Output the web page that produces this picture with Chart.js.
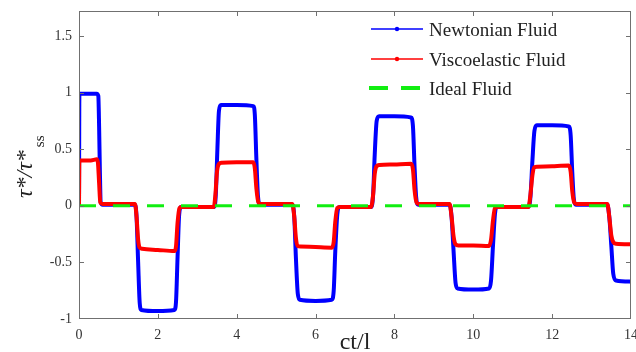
<!DOCTYPE html>
<html>
<head>
<meta charset="utf-8">
<script src="https://cdn.jsdelivr.net/npm/chart.js@4.4.1/dist/chart.umd.min.js"></script>
<style>
  html, body { margin: 0; padding: 0; background: #fff; }
  #wrap { width: 636px; height: 352px; }
</style>
</head>
<body>
<div id="wrap"><canvas id="chart"></canvas></div>
<script>
// values: [ct/l, tau*/tau*_ss]
const newtonian = [
    [0, 0], [0.01, 0.99], [0.45, 0.99], [0.49, 0.97], [0.51, 0.7], [0.53, 0.3], [0.55, 0.03], [0.6, 0.01],
    [1.42, 0.01], [1.46, -0.1], [1.5, -0.5], [1.54, -0.86], [1.58, -0.92], [2.0, -0.93], [2.42, -0.92], [2.46, -0.85], [2.5, -0.45], [2.54, -0.08], [2.59, -0.01],
    [3.43, -0.01], [3.47, 0.1], [3.51, 0.5], [3.55, 0.84], [3.6, 0.89], [4.0, 0.89], [4.42, 0.88], [4.46, 0.8], [4.5, 0.4], [4.54, 0.08], [4.59, 0.01],
    [5.41, 0.01], [5.46, -0.1], [5.5, -0.45], [5.55, -0.78], [5.6, -0.83], [6.0, -0.84], [6.41, -0.83], [6.46, -0.75], [6.5, -0.4], [6.55, -0.08], [6.6, -0.01],
    [7.41, -0.01], [7.46, 0.1], [7.5, 0.45], [7.55, 0.75], [7.61, 0.79], [8.0, 0.79], [8.42, 0.78], [8.47, 0.7], [8.51, 0.35], [8.55, 0.08], [8.6, 0.01],
    [9.4, 0.01], [9.45, -0.1], [9.5, -0.4], [9.55, -0.68], [9.6, -0.73], [10.0, -0.74], [10.4, -0.73], [10.45, -0.66], [10.5, -0.35], [10.55, -0.07], [10.6, -0.01],
    [11.4, -0.01], [11.45, 0.08], [11.5, 0.4], [11.55, 0.66], [11.61, 0.71], [12.0, 0.71], [12.42, 0.7], [12.47, 0.62], [12.51, 0.3], [12.55, 0.06], [12.6, 0.01],
    [13.4, 0.01], [13.45, -0.1], [13.5, -0.35], [13.55, -0.6], [13.62, -0.66], [14.0, -0.67]
];
const viscoelastic = [
    [0, 0], [0.01, 0.4], [0.3, 0.4], [0.45, 0.41], [0.48, 0.38], [0.51, 0.2], [0.54, 0.03], [0.6, 0.015],
    [1.42, 0.015], [1.46, -0.1], [1.5, -0.3], [1.54, -0.37], [1.6, -0.38], [2.0, -0.39], [2.42, -0.4], [2.46, -0.36], [2.5, -0.15], [2.55, -0.02], [2.6, -0.01],
    [3.42, -0.01], [3.46, 0.1], [3.5, 0.3], [3.55, 0.37], [3.62, 0.38], [4.0, 0.385], [4.42, 0.385], [4.46, 0.33], [4.5, 0.15], [4.55, 0.03], [4.62, 0.015],
    [5.41, 0.015], [5.46, -0.1], [5.5, -0.28], [5.55, -0.355], [5.62, -0.36], [6.0, -0.365], [6.41, -0.37], [6.46, -0.32], [6.5, -0.14], [6.55, -0.02], [6.62, -0.01],
    [7.41, -0.01], [7.46, 0.1], [7.5, 0.28], [7.55, 0.35], [7.62, 0.36], [8.0, 0.365], [8.42, 0.37], [8.47, 0.32], [8.51, 0.14], [8.56, 0.03], [8.62, 0.015],
    [9.4, 0.015], [9.45, -0.1], [9.5, -0.27], [9.55, -0.34], [9.62, -0.35], [10.0, -0.35], [10.4, -0.355], [10.45, -0.3], [10.5, -0.13], [10.55, -0.02], [10.62, -0.01],
    [11.4, -0.01], [11.45, 0.1], [11.5, 0.27], [11.55, 0.34], [11.62, 0.345], [12.0, 0.35], [12.42, 0.355], [12.47, 0.3], [12.51, 0.13], [12.56, 0.03], [12.62, 0.015],
    [13.4, 0.015], [13.45, -0.1], [13.5, -0.26], [13.55, -0.32], [13.62, -0.335], [14.0, -0.34]
];
const ideal = [[0, 0], [14, 0]];

const seriesNames = ['Newtonian Fluid', 'Viscoelastic Fluid', 'Ideal Fluid'];
const xTicks = [0, 2, 4, 6, 8, 10, 12, 14];
const yTicks = [-1, -0.5, 0, 0.5, 1, 1.5];

const BLUE = '#0000ff';
const RED = '#ff0000';
const GREEN = '#11ee11';
const SERIF = '"Liberation Serif", "Times New Roman", serif';

const toPoints = arr => arr.map(p => ({ x: p[0], y: p[1] }));

// box, inward ticks, axis titles and legend, MATLAB style
const framePlugin = {
    id: 'frame',
    afterDraw(chart) {
        const { ctx, chartArea: a, scales: { x, y } } = chart;
        ctx.save();
        ctx.strokeStyle = '#707070';
        ctx.lineWidth = 1;
        ctx.strokeRect(a.left + 0.5, a.top + 0.5, a.right - a.left - 1, a.bottom - a.top - 1);

        ctx.beginPath();
        xTicks.forEach(v => {
            if (v === 0 || v === 14) return;
            const px = Math.round(x.getPixelForValue(v)) + 0.5;
            ctx.moveTo(px, a.bottom); ctx.lineTo(px, a.bottom - 5);
            ctx.moveTo(px, a.top); ctx.lineTo(px, a.top + 5);
        });
        yTicks.forEach(v => {
            if (v === -1) return;
            const py = Math.round(y.getPixelForValue(v)) + 0.5;
            ctx.moveTo(a.left, py); ctx.lineTo(a.left + 5, py);
            ctx.moveTo(a.right, py); ctx.lineTo(a.right - 5, py);
        });
        ctx.stroke();

        // x title
        ctx.fillStyle = '#222';
        ctx.font = '24px ' + SERIF;
        ctx.textAlign = 'center';
        ctx.textBaseline = 'alphabetic';
        ctx.fillText('ct/l', (a.left + a.right) / 2, 349);

        // y title: tau*/tau*_ss rotated
        ctx.save();
        ctx.translate(32, 198);
        ctx.rotate(-Math.PI / 2);
        ctx.textAlign = 'left';
        ctx.font = 'italic 24px ' + SERIF;
        const main = '\u03C4*/\u03C4*';
        ctx.fillText(main, 0, 0);
        const w = ctx.measureText(main).width;
        ctx.font = '15px ' + SERIF;
        ctx.fillText('ss', w + 3, 12);
        ctx.restore();

        // legend
        const rows = [
            { label: seriesNames[0], color: BLUE, y: 29, dash: null, marker: true, width: 1.5 },
            { label: seriesNames[1], color: RED, y: 59, dash: null, marker: true, width: 1.5 },
            { label: seriesNames[2], color: GREEN, y: 88, dash: [19, 13], marker: false, width: 4 }
        ];
        rows.forEach(r => {
            ctx.beginPath();
            ctx.strokeStyle = r.color;
            ctx.lineWidth = r.width;
            ctx.setLineDash(r.dash || []);
            ctx.moveTo(r.dash ? 369 : 371, r.y);
            ctx.lineTo(423, r.y);
            ctx.stroke();
            ctx.setLineDash([]);
            if (r.marker) {
                ctx.beginPath();
                ctx.fillStyle = r.color;
                ctx.arc(397, r.y, 2.2, 0, Math.PI * 2);
                ctx.fill();
            }
            ctx.fillStyle = '#222';
            ctx.font = '19px ' + SERIF;
            ctx.textAlign = 'left';
            ctx.textBaseline = 'alphabetic';
            ctx.fillText(r.label, 429, r.y + 7);
        });
        ctx.restore();
    }
};

new Chart(document.getElementById('chart').getContext('2d'), {
    type: 'scatter',
    data: {
        datasets: [
            {
                label: seriesNames[0], data: toPoints(newtonian), showLine: true,
                borderColor: BLUE, backgroundColor: BLUE, borderWidth: 4,
                pointRadius: 0, cubicInterpolationMode: 'monotone', order: 2
            },
            {
                label: seriesNames[1], data: toPoints(viscoelastic), showLine: true,
                borderColor: RED, backgroundColor: RED, borderWidth: 4,
                pointRadius: 0, cubicInterpolationMode: 'monotone', order: 1
            },
            {
                label: seriesNames[2], data: toPoints(ideal), showLine: true,
                borderColor: GREEN, backgroundColor: GREEN, borderWidth: 3,
                borderDash: [17, 17], pointRadius: 0, order: 0
            }
        ]
    },
    options: {
        responsive: true,
        maintainAspectRatio: false,
        animation: false,
        layout: { padding: { top: 11, right: 5, left: 0, bottom: 0 } },
        plugins: { legend: { display: false }, tooltip: { enabled: false } },
        scales: {
            x: {
                type: 'linear', min: 0, max: 14,
                afterFit: s => { s.height = 33; s.paddingLeft = 0; s.paddingRight = 0; },
                afterBuildTicks: s => { s.ticks = xTicks.map(v => ({ value: v })); },
                grid: { display: false, drawTicks: false },
                border: { display: false },
                ticks: { color: '#333', font: { family: SERIF, size: 14 }, padding: 8, maxRotation: 0, callback: v => String(v) }
            },
            y: {
                type: 'linear', min: -1, max: 1.72,
                afterFit: s => { s.width = 79; s.paddingTop = 0; s.paddingBottom = 0; },
                afterBuildTicks: s => { s.ticks = yTicks.map(v => ({ value: v })); },
                grid: { display: false, drawTicks: false },
                border: { display: false },
                ticks: { color: '#333', font: { family: SERIF, size: 14 }, padding: 7, callback: v => String(v) }
            }
        }
    },
    plugins: [framePlugin]
});
</script>
</body>
</html>
